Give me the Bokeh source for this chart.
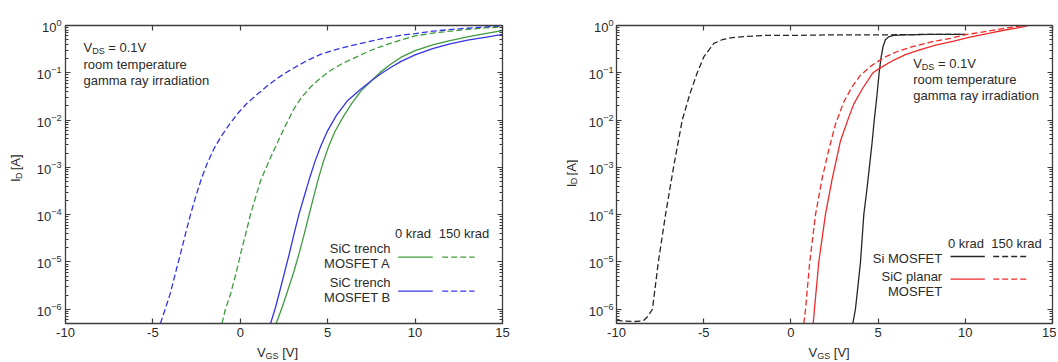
from bokeh.plotting import figure
from bokeh.layouts import row, column
from bokeh.models import (Label, Arrow, LogAxis, LinearAxis, FixedTicker, LogTicker, Range1d,
                          CustomJSTickFormatter)
from bokeh.core.properties import value
from bokeh.embed import file_html
from bokeh.resources import INLINE

# ---------------- data ----------------
x_ticks = [-10, -5, 0, 5, 10, 15]

# left panel: SiC trench MOSFETs
vgs_trenchA_0 = [2.05, 2.4, 2.7, 3.05, 3.35, 3.65, 3.92, 4.2, 4.45, 4.75, 5.05, 5.4, 5.9, 6.4, 6.9,
                 7.5, 8.0, 8.6, 9.2, 10.0, 11.0, 12.0, 13.0, 14.0, 15.0]
id_trenchA_0 = [5.0e-7, 1.12e-6, 2.4e-6, 6.0e-6, 1.45e-5, 3.8e-5, 9.5e-5, 2.4e-4, 5.5e-4, 1.32e-3,
                2.75e-3, 5.6e-3, 1.2e-2, 2.3e-2, 4.1e-2, 6.8e-2, 0.102, 0.151, 0.214, 0.295, 0.389,
                0.479, 0.575, 0.676, 0.776]

vgs_trenchB_0 = [1.73, 2.0, 2.2, 2.5, 2.78, 3.05, 3.35, 3.65, 3.92, 4.25, 4.6, 5.0, 5.5, 6.1, 6.85,
                 7.5, 8.0, 8.6, 9.2, 10.0, 11.0, 12.0, 13.0, 14.0, 15.0]
id_trenchB_0 = [5.0e-7, 1.05e-6, 2.0e-6, 5.4e-6, 1.38e-5, 3.6e-5, 1.0e-4, 2.4e-4, 5.2e-4, 1.26e-3,
                2.8e-3, 6.0e-3, 1.26e-2, 2.5e-2, 4.4e-2, 6.8e-2, 9.3e-2, 0.129, 0.174, 0.24, 0.324,
                0.407, 0.49, 0.562, 0.646]

vgs_trenchA_150 = [-1.05, -0.85, -0.56, -0.25, 0.01, 0.3, 0.58, 0.87, 1.16, 1.6, 2.1, 2.55, 3.06, 3.5,
                   4.02, 4.6, 5.16, 5.9, 6.69, 7.3, 8.0, 9.16, 10.0, 11.0, 12.5, 14.0, 15.0]
id_trenchA_150 = [5.0e-7, 1.0e-6, 2.1e-6, 5.6e-6, 1.45e-5, 3.8e-5, 1.0e-4, 2.3e-4, 5.2e-4, 1.26e-3,
                  3.2e-3, 7.2e-3, 1.7e-2, 3.0e-2, 5.0e-2, 7.8e-2, 0.112, 0.162, 0.219, 0.282, 0.355,
                  0.49, 0.603, 0.692, 0.794, 0.891, 0.933]

vgs_trenchB_150 = [-4.57, -4.3, -4.0, -3.7, -3.42, -3.13, -2.85, -2.55, -2.25, -1.9, -1.5, -1.1, -0.6,
                   -0.15, 0.4, 0.97, 1.6, 2.3, 3.0, 3.83, 4.6, 5.35, 6.3, 7.26, 8.2, 9.16, 10.0, 11.0,
                   12.5, 14.0, 15.0]
id_trenchB_150 = [5.0e-7, 1.0e-6, 2.2e-6, 6.0e-6, 1.5e-5, 4.0e-5, 1.0e-4, 2.4e-4, 5.4e-4, 1.2e-3,
                  2.5e-3, 4.5e-3, 8.3e-3, 1.38e-2, 2.3e-2, 3.5e-2, 5.5e-2, 8.5e-2, 0.123, 0.182, 0.245,
                  0.302, 0.372, 0.447, 0.537, 0.617, 0.676, 0.759, 0.851, 0.933, 0.977]

# right panel: Si MOSFET and SiC planar MOSFET
vgs_si_0 = [3.55, 3.7, 3.85, 3.99, 4.18, 4.35, 4.5, 4.65, 4.78, 4.93, 5.06, 5.16, 5.28, 5.42, 5.6,
            5.9, 6.5, 8.0, 10.0]
id_si_0 = [5.0e-7, 1.0e-6, 3.2e-6, 1.0e-5, 1.0e-4, 3.2e-4, 1.0e-3, 3.2e-3, 1.0e-2, 3.2e-2, 0.1, 0.2,
           0.355, 0.5, 0.575, 0.617, 0.631, 0.646, 0.646]

vgs_si_150 = [-10.0, -9.5, -9.0, -8.6, -8.45, -8.2, -7.94, -7.6, -7.19, -6.73, -6.23, -5.8, -5.37,
              -4.99, -4.42, -3.94, -3.46, -2.5, -1.55, 0.0, 2.0, 5.0, 7.5, 10.0]
id_si_150 = [5.8e-7, 5.6e-7, 5.5e-7, 5.6e-7, 5.8e-7, 7.1e-7, 1.0e-6, 1.0e-5, 1.0e-4, 1.0e-3, 1.0e-2,
             3.5e-2, 0.10, 0.219, 0.417, 0.5, 0.55, 0.589, 0.617, 0.617, 0.631, 0.631, 0.646, 0.646]

vgs_planar_0 = [1.28, 1.35, 1.6, 1.98, 2.37, 2.84, 3.3, 3.61, 4.1, 4.7, 5.2, 5.9, 6.6, 7.43, 8.3,
                9.34, 10.2, 11.26, 12.2, 13.17, 13.6]
id_planar_0 = [5.0e-7, 1.0e-6, 1.0e-5, 1.0e-4, 5.8e-4, 3.6e-3, 1.1e-2, 2.2e-2, 4.6e-2, 0.1, 0.132,
               0.186, 0.245, 0.309, 0.385, 0.468, 0.562, 0.676, 0.794, 0.912, 1.0]

vgs_planar_150 = [0.74, 0.84, 1.08, 1.41, 1.79, 2.2, 2.56, 3.03, 3.5, 3.99, 4.6, 5.33, 6.1, 6.86, 8.0,
                  9.15, 10.1, 11.26, 12.2, 13.17, 13.4]
id_planar_150 = [5.0e-7, 1.0e-6, 1.0e-5, 1.0e-4, 5.8e-4, 2.6e-3, 8.3e-3, 2.4e-2, 5.0e-2, 8.9e-2, 0.14,
                 0.209, 0.282, 0.347, 0.447, 0.537, 0.646, 0.759, 0.871, 0.977, 1.0]

# ---------------- style ----------------
FONT = "Liberation Sans"
AXC = "#3c3c3c"
TXT = "#2b2b2b"
GREEN = "#3f9b3f"
BLUE = "#3434e6"
RED = "#ee2a2a"
BLACK = "#262626"
LW = 1.3
DASH = "6 3"
FS = 13
SUB = 9
ROW_H = 346      # height of the row holding the two charts
XLAB_H = 14      # strip under the charts for the x axis titles

CW = {' ': 0.278, '=': 0.584, '.': 0.278, '0': 0.556, '1': 0.556, '5': 0.556, 'V': 0.667,
      'D': 0.722, 'S': 0.667, 'G': 0.778, 'I': 0.278, 'A': 0.667, '[': 0.278, ']': 0.278}


def tw(s, size):
    return sum(CW.get(c, 0.556) for c in s) * size


def style_axis(ax, labels=True, standoff=4):
    ax.axis_line_color = AXC
    ax.axis_line_width = 1.3
    ax.major_tick_line_color = AXC
    ax.major_tick_line_width = 1.2
    ax.minor_tick_line_color = AXC
    ax.minor_tick_line_width = 1
    ax.major_tick_in = 5
    ax.major_tick_out = 0
    ax.minor_tick_in = 3
    ax.minor_tick_out = 0
    if labels:
        ax.major_label_text_font = FONT
        ax.major_label_text_font_size = f"{FS}px"
        ax.major_label_text_color = TXT
        ax.major_label_standoff = standoff
    else:
        ax.major_label_text_font_size = "0px"
        ax.major_label_text_color = None
        ax.major_label_standoff = 0


def make_fig(width, bl, br, bt, ystandoff=4):
    bb = ROW_H - bt - 301
    p = figure(width=width, height=ROW_H, x_range=Range1d(-10, 15), y_range=Range1d(5e-7, 1.0),
               y_axis_type="log", output_backend="svg", toolbar_location=None,
               min_border_left=bl, min_border_right=br, min_border_top=bt, min_border_bottom=bb,
               background_fill_color="white", border_fill_color="white", outline_line_color=AXC)
    p.xgrid.visible = False
    p.ygrid.visible = False
    p.xaxis.ticker = FixedTicker(ticks=x_ticks, minor_ticks=[])
    p.xaxis.formatter = CustomJSTickFormatter(code="return tick.toFixed(0)")
    p.yaxis.ticker = LogTicker(num_minor_ticks=10)
    style_axis(p.xaxis[0])
    style_axis(p.yaxis[0], standoff=ystandoff)
    top = LinearAxis(ticker=FixedTicker(ticks=x_ticks, minor_ticks=[]))
    style_axis(top, labels=False)
    right = LogAxis(ticker=LogTicker(num_minor_ticks=10))
    style_axis(right, labels=False)
    p.add_layout(top, "above")
    p.add_layout(right, "right")
    return p


def strip(width, height):
    """a bare canvas (pixel coordinates, y up) used for the axis titles"""
    s = figure(width=width, height=height, x_range=Range1d(0, width), y_range=Range1d(0, height),
               x_axis_type=None, y_axis_type=None, output_backend="svg", toolbar_location=None,
               min_border=0, outline_line_color=None, background_fill_color="white",
               border_fill_color="white")
    return s


def put(fig, x, y, text, size, angle=0.0):
    fig.text(x=[x], y=[y], text=[text], text_font=value(FONT), text_font_size=value(f"{size}px"),
             text_color=TXT, text_align="left", text_baseline="middle", angle=angle)


def rich_h(fig, x, y, parts, align="left"):
    """x, y: local pixel coords (y up); parts: (text, size, drop)"""
    total = sum(tw(t, s) for t, s, d in parts)
    pos = x - total / 2 if align == "center" else x
    for t, s, d in parts:
        lead = len(t) - len(t.lstrip(" "))
        pos += tw(" " * lead, s)
        put(fig, pos, y - d, t.lstrip(" "), s)
        pos += tw(t.lstrip(" "), s)


def rich_v(fig, cx, cy, parts):
    """text reading bottom-to-top, centred on (cx, cy) local coords (y up)"""
    total = sum(tw(t, s) for t, s, d in parts)
    pos = cy - total / 2
    for t, s, d in parts:
        lead = len(t) - len(t.lstrip(" "))
        pos += tw(" " * lead, s)
        put(fig, cx + d, pos, t.lstrip(" "), s, angle=1.5707963)
        pos += tw(t.lstrip(" "), s)


class Page:
    """annotations inside a chart frame, positioned with page pixel coordinates"""
    def __init__(self, p, ox, oy):
        self.p, self.ox, self.oy = p, ox, oy

    def label(self, x, y, text, size=FS, align="left"):
        self.p.add_layout(Label(x=x - self.ox, y=self.oy - y, x_units="screen", y_units="screen",
                                text=text, text_font=FONT, text_font_size=f"{size}px",
                                text_color=TXT, text_align=align, text_baseline="middle"))

    def rich(self, x, y, parts):
        pos = x
        for t, s, d in parts:
            lead = len(t) - len(t.lstrip(" "))
            pos += tw(" " * lead, s)
            self.label(pos, y + d, t.lstrip(" "), size=s)
            pos += tw(t.lstrip(" "), s)

    def seg(self, x0, x1, y, color, dash="solid"):
        self.p.add_layout(Arrow(start=None, end=None, x_start=x0 - self.ox, y_start=self.oy - y,
                                x_end=x1 - self.ox, y_end=self.oy - y, start_units="screen",
                                end_units="screen", line_color=color, line_width=LW, line_dash=dash))


# ---------------- left panel ----------------
# page columns: ylab1 [0,26) | p1 [26,560) | ylab2 [560,578) | p2 [578,1056)
p1 = make_fig(534, 39, 58, 22)
p1.line(vgs_trenchA_0, id_trenchA_0, line_color=GREEN, line_width=LW)
p1.line(vgs_trenchA_150, id_trenchA_150, line_color=GREEN, line_width=LW, line_dash=DASH)
p1.line(vgs_trenchB_0, id_trenchB_0, line_color=BLUE, line_width=LW)
p1.line(vgs_trenchB_150, id_trenchB_150, line_color=BLUE, line_width=LW, line_dash=DASH)

L = Page(p1, 65, 323)
L.rich(83, 47, [("V", FS, 0), ("DS", SUB, 3), (" = 0.1V", FS, 0)])
L.label(83, 64, "room temperature")
L.label(83, 80, "gamma ray irradiation")
L.label(412.5, 233.3, "0 krad", align="center")
L.label(463.5, 233.3, "150 krad", align="center")
L.label(390, 247.7, "SiC trench", align="right")
L.label(390, 262.7, "MOSFET A", align="right")
L.label(390, 281.7, "SiC trench", align="right")
L.label(390, 297.3, "MOSFET B", align="right")
L.seg(397.7, 432.3, 256.7, GREEN)
L.seg(441.7, 474.0, 256.7, GREEN, DASH)
L.seg(397.7, 432.3, 290.7, BLUE)
L.seg(441.7, 474.0, 290.7, BLUE, DASH)

# ---------------- right panel ----------------
p2 = make_fig(478, 38, 4, 25, ystandoff=3)
p2.line(vgs_si_0, id_si_0, line_color=BLACK, line_width=LW)
p2.line(vgs_si_150, id_si_150, line_color=BLACK, line_width=LW, line_dash=DASH)
p2.line(vgs_planar_0, id_planar_0, line_color=RED, line_width=LW)
p2.line(vgs_planar_150, id_planar_150, line_color=RED, line_width=LW, line_dash=DASH)

R = Page(p2, 616, 326)
R.rich(912.7, 66, [("V", FS, 0), ("DS", SUB, 3), (" = 0.1V", FS, 0)])
R.label(912.7, 82, "room temperature")
R.label(912.7, 98, "gamma ray irradiation")
R.label(965.5, 245.7, "0 krad", align="center")
R.label(1016.0, 245.7, "150 krad", align="center")
R.label(941.7, 260.7, "Si MOSFET", align="right")
R.label(941.7, 278.7, "SiC planar", align="right")
R.label(941.7, 294.0, "MOSFET", align="right")
R.seg(950.0, 984.3, 259.0, BLACK)
R.seg(992.7, 1026.7, 259.0, BLACK, DASH)
R.seg(950.0, 984.3, 281.7, RED)
R.seg(992.7, 1026.7, 281.7, RED, DASH)

# ---------------- axis titles ----------------
ylab1 = strip(26, ROW_H)
rich_v(ylab1, 15, ROW_H - 167, [("I", FS, 0), ("D", SUB, 3), (" [A]", FS, 0)])
ylab2 = strip(18, ROW_H)
rich_v(ylab2, 10.5, ROW_H - 173, [("I", FS, 0), ("D", SUB, 3), (" [A]", FS, 0)])

xlab = strip(1056, XLAB_H)
base = ROW_H + XLAB_H
rich_h(xlab, 277, base - 352, [("V", FS, 0), ("GS", SUB, 3), (" [V]", FS, 0)], align="center")
rich_h(xlab, 808, base - 352, [("V", FS, 0), ("GS", SUB, 3), (" [V]", FS, 0)])

layout = column(row(ylab1, p1, ylab2, p2), xlab)
open("out.html", "w").write(file_html(layout, INLINE))
